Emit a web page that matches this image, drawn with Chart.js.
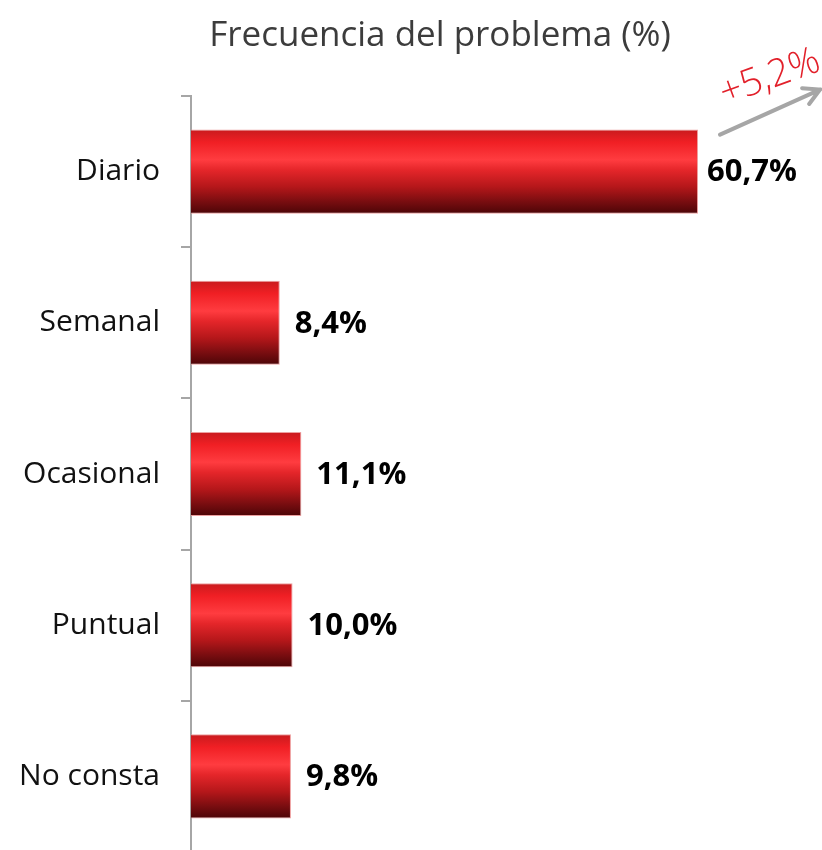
<!DOCTYPE html>
<html>
<head>
<meta charset="utf-8">
<script src="https://cdn.jsdelivr.net/npm/chart.js@4/dist/chart.umd.min.js"></script>
<style>
  html, body { margin: 0; padding: 0; background: #fff; overflow: hidden; }
  #wrap { position: relative; width: 822px; height: 860px; }
  #titulo {
    position: absolute; top: 0; left: 0; width: 822px; z-index: 1;
    padding-left: 58px; box-sizing: border-box;
    text-align: center; font: 35px "Open Sans", sans-serif; color: #3c3c3c;
    line-height: 66px; white-space: nowrap;
  }
</style>
</head>
<body>
<div id="wrap">
  <div id="titulo"></div>
  <canvas id="chart"></canvas>
</div>
<script>
var categorias = ['Diario', 'Semanal', 'Ocasional', 'Puntual', 'No consta'];
var frecuencia = [60.7, 8.4, 11.1, 10.0, 9.8];
var variacion = '+5,2%';
var titulo = 'Frecuencia del problema (%)';

var FONT = '"Open Sans", sans-serif';
var ejeMin = -2.7, ejeMax = 76.2;
var grosor = 0.556;

document.getElementById('titulo').textContent = titulo;

function formato(v) {
  return v.toFixed(1).replace('.', ',') + '%';
}

function degradado(ctx) {
  var chart = ctx.chart, y = chart.scales.y;
  if (!y || !chart.chartArea) return '#e02024';
  var centro = y.getPixelForValue(ctx.dataIndex);
  var mitad = (y.height / categorias.length) * grosor / 2;
  var g = chart.ctx.createLinearGradient(0, centro - mitad, 0, centro + mitad);
  g.addColorStop(0, '#c81b1e');
  g.addColorStop(0.15, '#f01f24');
  g.addColorStop(0.36, '#ff3c40');
  g.addColorStop(0.48, '#e5262a');
  g.addColorStop(0.68, '#b5171a');
  g.addColorStop(0.86, '#780d10');
  g.addColorStop(1, '#4c0507');
  return g;
}

var etiquetas = {
  id: 'etiquetas',
  afterDatasetsDraw: function (chart) {
    var ctx = chart.ctx;
    var meta = chart.getDatasetMeta(0);
    ctx.save();
    ctx.fillStyle = '#000';
    ctx.font = 'bold 31px ' + FONT;
    ctx.textAlign = 'left';
    ctx.textBaseline = 'middle';
    meta.data.forEach(function (bar, i) {
      ctx.fillText(formato(frecuencia[i]), bar.x + (i === 0 ? 9 : 15), bar.y + 1);
    });

    // flecha de variacion junto a la primera barra
    var b = meta.data[0];
    var top = b.y - b.height / 2;
    var x0 = b.x + 22, y0 = top + 5, x1 = b.x + 122, y1 = top - 40;
    var ang = Math.atan2(y1 - y0, x1 - x0);
    ctx.strokeStyle = '#a6a6a6';
    ctx.lineWidth = 4;
    ctx.lineCap = 'round';
    ctx.beginPath();
    ctx.moveTo(x0, y0);
    ctx.lineTo(x1, y1);
    ctx.moveTo(x1 - 18 * Math.cos(ang - 0.5), y1 - 18 * Math.sin(ang - 0.5));
    ctx.lineTo(x1, y1);
    ctx.lineTo(x1 - 18 * Math.cos(ang + 0.5), y1 - 18 * Math.sin(ang + 0.5));
    ctx.stroke();

    ctx.translate(b.x + 72, top - 52);
    ctx.rotate(-20 * Math.PI / 180);
    ctx.fillStyle = '#e2202a';
    ctx.font = '300 38px ' + FONT;
    ctx.textAlign = 'center';
    ctx.fillText(variacion, 0, 0);
    ctx.restore();
  }
};

var chart = new Chart(document.getElementById('chart').getContext('2d'), {
  type: 'bar',
  data: {
    labels: categorias,
    datasets: [{
      data: frecuencia,
      base: ejeMin,
      backgroundColor: degradado,
      borderColor: 'rgba(235,150,150,0.9)',
      borderWidth: 1,
      borderSkipped: 'start',
      categoryPercentage: 1,
      barPercentage: grosor
    }]
  },
  options: {
    indexAxis: 'y',
    responsive: true,
    maintainAspectRatio: false,
    animation: false,
    devicePixelRatio: 1,
    layout: { padding: { top: 96, left: 0, right: 0, bottom: 8 } },
    plugins: {
      legend: { display: false },
      tooltip: { enabled: false }
    },
    scales: {
      x: { display: false, min: ejeMin, max: ejeMax },
      y: {
        afterFit: function (scale) {
          scale.width = 191;
          scale.paddingTop = 0;
          scale.paddingBottom = 0;
        },
        border: { color: '#a6a6a6', width: 2 },
        grid: { offset: true, drawOnChartArea: false, tickLength: 10, color: '#a6a6a6', lineWidth: 2 },
        ticks: { color: '#111', padding: 21, font: { family: FONT, size: 30 } }
      }
    }
  },
  plugins: [etiquetas]
});
</script>
</body>
</html>
